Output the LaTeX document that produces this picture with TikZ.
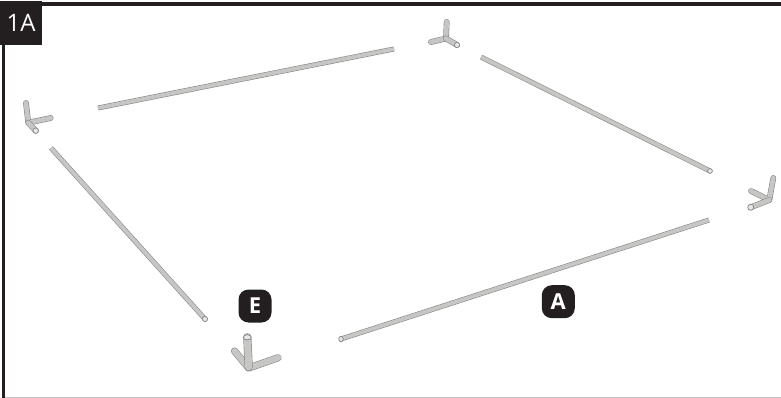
\documentclass[tikz,border=0pt]{standalone}
\usepackage{fontspec}
\setmainfont{Open Sans}
\definecolor{framedark}{HTML}{231F20}
\definecolor{tubeedge}{HTML}{8A8A8A}
\definecolor{tubefill}{HTML}{C6C6C4}
\tikzset{
  tube/.style={draw=tubeedge, line width=0.6pt, double=tubefill, double distance=3.8pt},
  fitting/.style={draw=tubeedge, line width=0.6pt, double=tubefill, double distance=4.6pt, line join=round, line cap=round},
  tubeend/.style={draw=tubeedge, fill=white!60!tubefill, line width=0.8pt},
  badge/.style={fill=framedark, text=white, rounded corners=10pt, minimum size=33pt, inner sep=0pt, font=\fontsize{22}{22}\selectfont\bfseries}
}
\begin{document}
\begin{tikzpicture}[x=1pt,y=-1pt]
  \useasboundingbox (0,0) rectangle (781,398);

  % Rahmen
  \draw[framedark, line width=3.6pt] (781,3.8) -- (3.6,3.8) -- (3.6,398);
  \draw[lightgray, line width=1.2pt] (5,397.4) -- (781,397.4);
  \node[fill=framedark, text=white, minimum width=42pt, minimum height=44pt, inner sep=0pt, font=\fontsize{24}{24}\selectfont] (stepLabel) at (21,23) {1A};

  % Stangen
  \draw[tube] (98,108) -- (394,49);
  \draw[tube] (481,57) -- (710,171);
  \draw[tube] (51,148) -- (205,319);
  \draw[tube] (341,339) -- (709,220);
  \draw[tubeend] (205,319) ellipse (2.6pt and 2.6pt);
  \draw[tubeend] (710,171) ellipse (2.4pt and 2.4pt);
  \draw[tubeend] (341,339) ellipse (2.2pt and 2.8pt);

  % Ecke links
  \draw[fitting] (50.7,118) -- (28.3,122.7) -- (26,103);
  \draw[fitting] (28.3,122.7) -- (35.7,130.7);
  \draw[tubeend] (35.7,130.7) circle (2.8pt);

  % Ecke oben
  \draw[fitting] (431,42) -- (446,38.5) -- (446.7,22);
  \draw[fitting] (446,38.5) -- (457,45);
  \draw[tubeend] (457,45) circle (2.6pt);

  % Ecke rechts
  \draw[fitting] (751,191) -- (769.3,200) -- (773.3,178);
  \draw[fitting] (769.3,200) -- (750.7,207.3);
  \draw[tubeend] (750.7,207.3) circle (3pt);

  % Ecke unten
  \draw[fitting, double distance=6pt] (234.5,351) -- (248.7,368) -- (278,357.8);
  \draw[fitting, double distance=7pt] (248.7,367) -- (247.3,337.3);
  \draw[tubeend] (247.3,337.3) ellipse (4pt and 2.6pt);

  % Teile
  \node[badge] (partE) at (255,306) {E};
  \node[badge] (partA) at (558.3,301.7) {A};
\end{tikzpicture}
\end{document}
